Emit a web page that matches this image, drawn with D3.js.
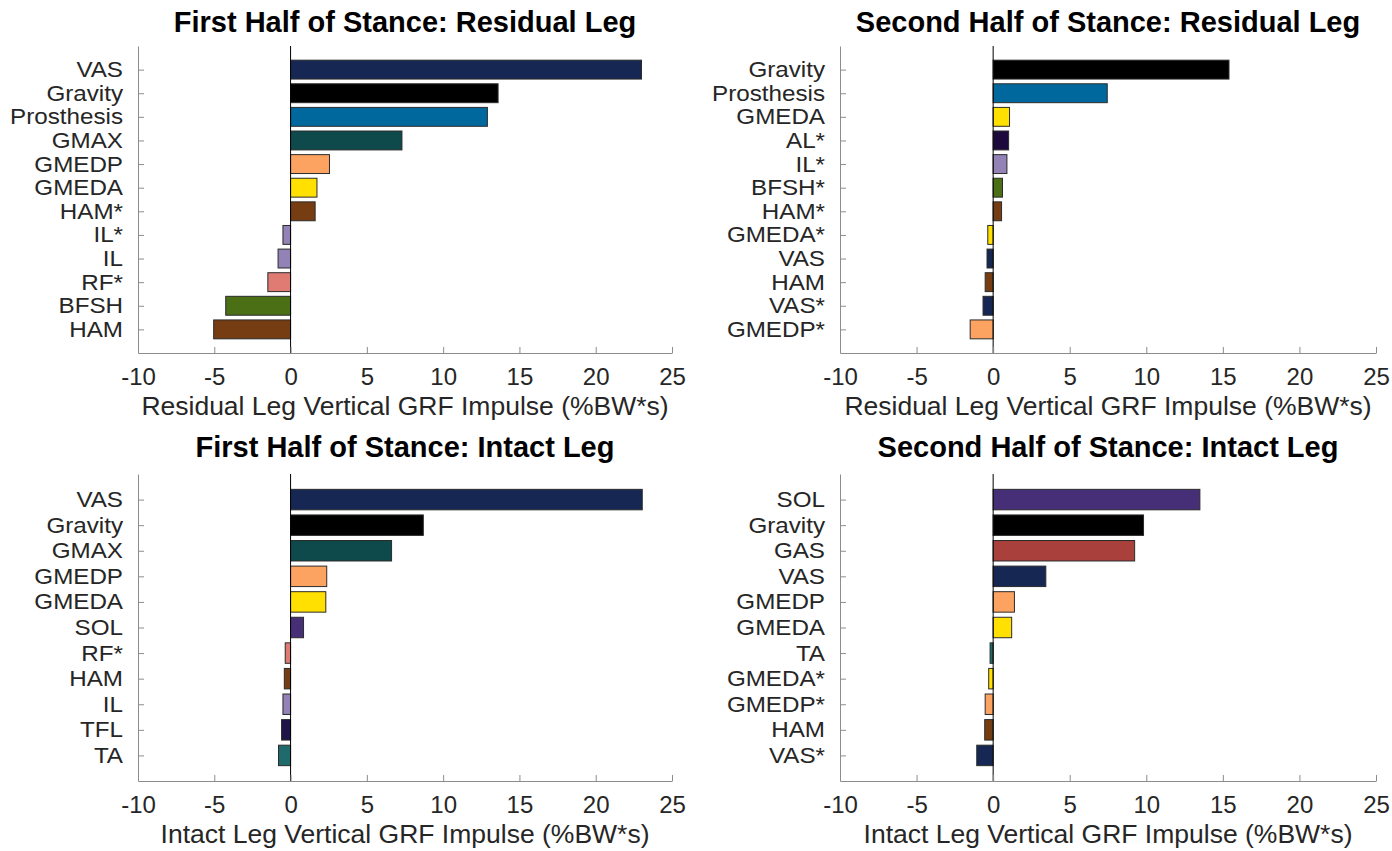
<!DOCTYPE html>
<html>
<head>
<meta charset="utf-8">
<script src="https://cdn.jsdelivr.net/npm/d3@7"></script>
<style>
  body { margin: 0; background: #fff; }
  text { font-family: "Liberation Sans", Arial, sans-serif; }
</style>
</head>
<body>
<svg id="chart" width="1392" height="851"></svg>
<script>
// data, top to bottom in each panel
var res1Names = ["VAS", "Gravity", "Prosthesis", "GMAX", "GMEDP", "GMEDA", "HAM*", "IL*", "IL", "RF*", "BFSH", "HAM"]
var res1Values = [23.0, 13.6, 12.9, 7.3, 2.55, 1.73, 1.61, -0.5, -0.82, -1.49, -4.25, -5.04]

var res2Names = ["Gravity", "Prosthesis", "GMEDA", "AL*", "IL*", "BFSH*", "HAM*", "GMEDA*", "VAS", "HAM", "VAS*", "GMEDP*"]
var res2Values = [15.4, 7.45, 1.07, 1.01, 0.9, 0.61, 0.55, -0.35, -0.4, -0.52, -0.66, -1.5]

var int1Names = ["VAS", "Gravity", "GMAX", "GMEDP", "GMEDA", "SOL", "RF*", "HAM", "IL", "TFL", "TA"]
var int1Values = [23.05, 8.7, 6.62, 2.37, 2.31, 0.85, -0.35, -0.41, -0.5, -0.59, -0.79]

var int2Names = ["SOL", "Gravity", "GAS", "VAS", "GMEDP", "GMEDA", "TA", "GMEDA*", "GMEDP*", "HAM", "VAS*"]
var int2Values = [13.5, 9.82, 9.24, 3.44, 1.39, 1.21, -0.2, -0.29, -0.52, -0.55, -1.07]

var xTicks = [-10, -5, 0, 5, 10, 15, 20, 25]

var muscleColors = {
    "VAS": "#152752", "Gravity": "#000000", "Prosthesis": "#01689d", "GMAX": "#0e4a4b",
    "GMEDP": "#fda362", "GMEDA": "#ffe000", "HAM": "#773d12", "IL": "#9282b6",
    "RF": "#e07b74", "BFSH": "#4b6f15", "AL": "#1b0a3b", "SOL": "#472f78",
    "GAS": "#a9403c", "TA": "#1f6a6a", "TFL": "#1f1447"
}

var panels = [
    { title: "First Half of Stance: Residual Leg", names: res1Names, values: res1Values,
      xlabel: "Residual Leg Vertical GRF Impulse (%BW*s)", x0: 138, x1: 672, y0: 46, y1: 353, ty: 32 },
    { title: "Second Half of Stance: Residual Leg", names: res2Names, values: res2Values,
      xlabel: "Residual Leg Vertical GRF Impulse (%BW*s)", x0: 840, x1: 1376, y0: 46, y1: 353, ty: 32 },
    { title: "First Half of Stance: Intact Leg", names: int1Names, values: int1Values,
      xlabel: "Intact Leg Vertical GRF Impulse (%BW*s)", x0: 138, x1: 672, y0: 474, y1: 781, ty: 457 },
    { title: "Second Half of Stance: Intact Leg", names: int2Names, values: int2Values,
      xlabel: "Intact Leg Vertical GRF Impulse (%BW*s)", x0: 840, x1: 1376, y0: 474, y1: 781, ty: 457 }
]

var svg = d3.select("#chart")
var axisColor = "#8c8c8c"
var textColor = "#262626"
var labelStretch = 1.1

panels.forEach(function(p) {
    var n = p.names.length
    var x = d3.scaleLinear().domain([-10, 25]).range([p.x0, p.x1])
    // categories sit at 1..n with limits [0, n+1], like barh
    var y = d3.scaleLinear().domain([0, n + 1]).range([p.y0, p.y1])
    var step = y(1) - y(0)
    var barH = step * 0.8

    var g = svg.append("g")

    g.append("text")
        .attr("x", (p.x0 + p.x1) / 2).attr("y", p.ty)
        .attr("text-anchor", "middle")
        .style("font-size", "29px").style("font-weight", "bold").attr("fill", "#000")
        .text(p.title)

    // bars
    g.selectAll("rect.bar").data(p.values).enter().append("rect")
        .attr("class", "bar")
        .attr("x", function(d) { return x(Math.min(0, d)) })
        .attr("width", function(d) { return Math.abs(x(d) - x(0)) })
        .attr("y", function(d, i) { return y(i + 1) - barH / 2 })
        .attr("height", barH)
        .attr("fill", function(d, i) { return muscleColors[p.names[i].replace("*", "")] })
        .attr("stroke", "#2b2b2b").attr("stroke-width", 1)

    // zero line
    g.append("line")
        .attr("x1", x(0)).attr("x2", x(0)).attr("y1", p.y0).attr("y2", p.y1)
        .attr("stroke", "#000").attr("stroke-width", 1)

    // x axis
    var xAxis = g.append("g").attr("transform", "translate(0," + p.y1 + ")")
        .call(d3.axisBottom(x).tickValues(xTicks).tickFormat(function(d) { return String(d) })
            .tickSizeInner(-6).tickSizeOuter(0).tickPadding(15))
    xAxis.select(".domain").attr("stroke", axisColor)
    xAxis.selectAll(".tick line").attr("stroke", axisColor)
    xAxis.selectAll(".tick text").attr("fill", textColor).style("font-size", "24px")
        .style("font-family", "Liberation Sans, Arial, sans-serif")

    // y axis
    var yAxis = g.append("g").attr("transform", "translate(" + p.x0 + ",0)")
        .call(d3.axisLeft(y).tickValues(d3.range(1, n + 1))
            .tickFormat(function(d) { return p.names[d - 1] })
            .tickSizeInner(-6).tickSizeOuter(0).tickPadding(15))
    yAxis.select(".domain").attr("stroke", axisColor)
    yAxis.selectAll(".tick line").attr("stroke", axisColor)
    // slightly wider type, like the reference
    yAxis.selectAll(".tick text").attr("fill", textColor).style("font-size", "22px")
        .style("font-family", "Liberation Sans, Arial, sans-serif")
        .attr("x", -15 / labelStretch)
        .attr("transform", "scale(" + labelStretch + ",1)")

    g.append("text")
        .attr("x", (p.x0 + p.x1) / 2).attr("y", p.y1 + 62)
        .attr("text-anchor", "middle")
        .attr("fill", textColor).style("font-size", "26.5px")
        .text(p.xlabel)
})
</script>
</body>
</html>
